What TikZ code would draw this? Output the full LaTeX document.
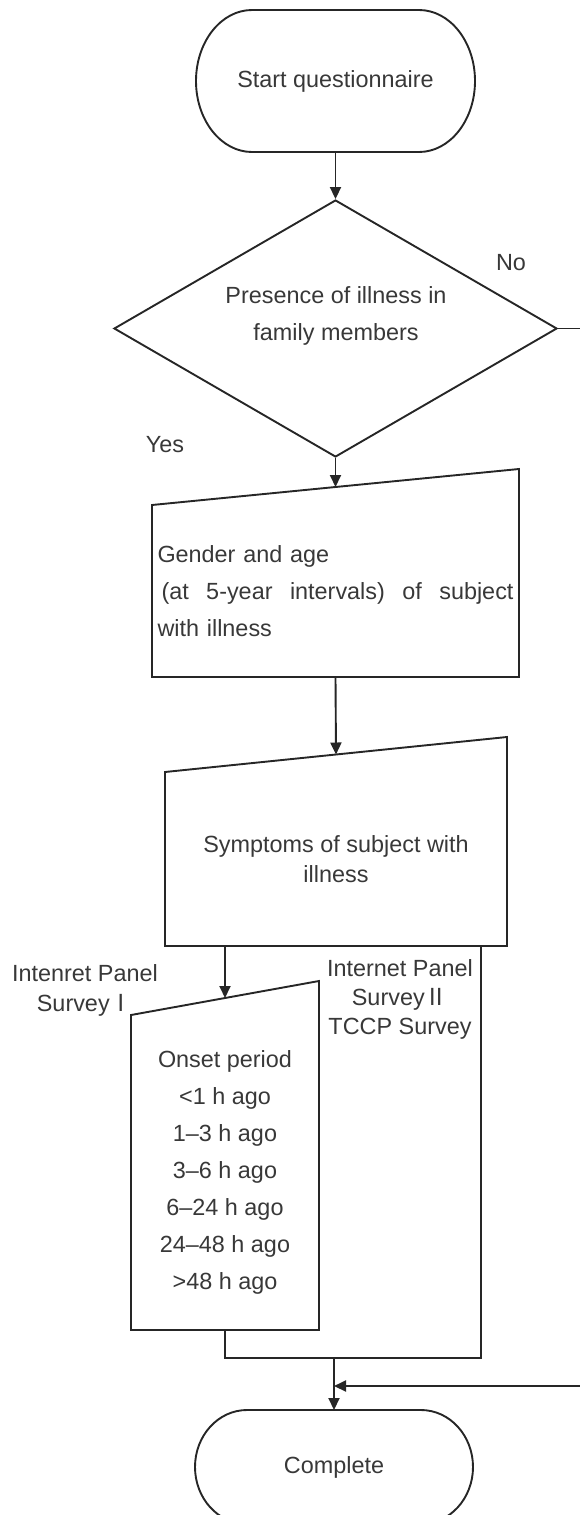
\documentclass[tikz,border=0pt]{standalone}
\usepackage{fontspec}
\setmainfont{Liberation Sans}
\newfontfamily\cjk{Noto Sans CJK JP}
\usetikzlibrary{shapes.geometric,arrows.meta,calc}

\begin{document}
\begin{tikzpicture}[x=0.5pt,y=-0.5pt,
  line width=0.95pt, color=black!85,
  every node/.style={font=\fontsize{11.7pt}{18.5pt}\selectfont, text=black!78},
  box/.style={inner sep=0pt, outer sep=0pt},
  arr/.style={-{Triangle[length=6pt,width=5.5pt]}},
  tight/.style={font=\fontsize{11.7pt}{15pt}\selectfont}
  ]
\useasboundingbox (0,0) rectangle (579,1515);

% start
\node[box, minimum width=139.5pt, minimum height=71pt] (start) at (335.5,81) {Start questionnaire};
\draw ([xshift=28pt]start.north west) -- ([xshift=-28pt]start.north east)
  arc[start angle=90, end angle=-90, x radius=28pt, y radius=35.5pt]
  -- ([xshift=28pt]start.south west)
  arc[start angle=270, end angle=90, x radius=28pt, y radius=35.5pt] -- cycle;

% decision
\node[draw, diamond, aspect=1.72, minimum width=221.5pt, minimum height=128.5pt, inner sep=0pt] (dec) at (335.5,328.5) {};
\node[align=center] (dectext) at (336,315.5) {Presence of illness in\\family members};
\node (no) at (511,263) {No};
\node (yes) at (165,445) {Yes};

% gender box
\node[box, minimum width=183.5pt, minimum height=86pt, text width=178pt, align=left] (gen) at (335.5,591)
  {Gender and age\\\leavevmode\hbox to 178pt{\hspace{2pt}(at\hfill 5-year\hfill intervals)\hfill of\hfill subject}\\with illness};
\coordinate (genNE) at ([yshift=18pt]gen.north east);
\draw (gen.south west) -- (gen.south east) -- (genNE) -- (gen.north west) -- cycle;

% symptoms box
\node[box, tight, minimum width=171pt, minimum height=87pt, align=center] (sym) at (336,859)
  {Symptoms of subject with\\illness};
\coordinate (symNE) at ([yshift=17.5pt]sym.north east);
\draw (sym.south west) -- (sym.south east) -- (symNE) -- (sym.north west) -- cycle;

% onset box
\node[box, minimum width=94pt, minimum height=157.5pt, align=center] (onset) at (225,1172.5)
  {Onset period\\<1 h ago\\1–3 h ago\\3–6 h ago\\6–24 h ago\\24–48 h ago\\>48 h ago};
\coordinate (onNE) at ([yshift=17pt]onset.north east);
\draw (onset.south west) -- (onset.south east) -- (onNE) -- (onset.north west) -- cycle;

% survey labels
\node[tight, align=center] (lab1) at (85,990) {Intenret Panel\\Survey{\cjk Ⅰ}};
\node[align=center, font=\fontsize{11.7pt}{14.5pt}\selectfont] (lab2) at (400,999) {Internet Panel\\Survey{\cjk Ⅱ}\\TCCP Survey};

% complete
\node[box, minimum width=139pt, minimum height=57pt] (done) at (334,1467) {Complete};
\draw ([xshift=26pt]done.north west) -- ([xshift=-26pt]done.north east)
  arc[start angle=90, end angle=-90, x radius=26pt, y radius=28.5pt]
  -- ([xshift=26pt]done.south west)
  arc[start angle=270, end angle=90, x radius=26pt, y radius=28.5pt] -- cycle;

% connectors
\coordinate (genin) at ($(gen.north west)!0.5!(genNE)$);
\coordinate (symin) at ($(sym.north west)!0.5!(symNE)$);
\coordinate (onin) at ($(onset.north west)!0.5!(onNE)$);
\coordinate (jr) at (481,1358);
\coordinate (j) at (334,1358);
\coordinate (rc) at (583,1386);
\coordinate (ret) at (334,1386);

\draw[arr] (start.south) -- (dec.north);
\draw[arr] (dec.south) -- (genin);
\draw[arr] (gen.south) -- (symin);
\draw[arr] (sym.south -| onin) -- (onin);
\draw (sym.south -| jr) -- (jr) -| (onset.south);
\draw[arr] (j) -- (done.north);
\draw[arr] (dec.east) -- (dec.east -| rc) -- (rc) -- (ret);
\end{tikzpicture}
\end{document}
